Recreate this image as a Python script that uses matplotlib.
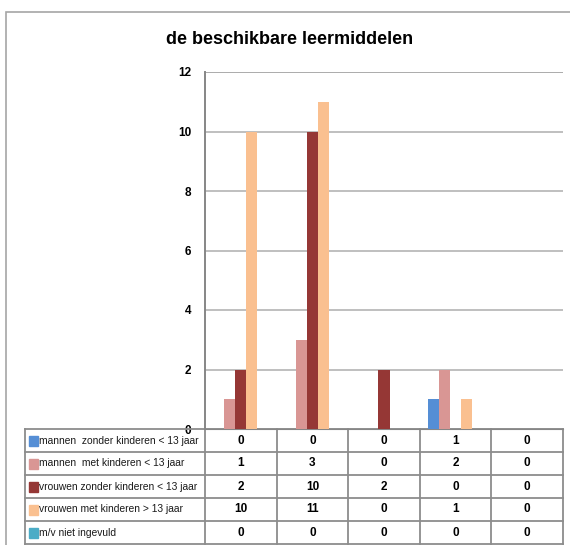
import numpy as np
import matplotlib
matplotlib.use('Agg')
import matplotlib.pyplot as plt
from matplotlib.patches import Rectangle

plt.rcParams['font.family'] = ['Liberation Sans Narrow', 'Liberation Sans', 'DejaVu Sans']

title = 'de beschikbare leermiddelen'
groups = ['1', '2', '3', '4', '5']

series_names = ['mannen  zonder kinderen < 13 jaar',
                'mannen  met kinderen < 13 jaar',
                'vrouwen zonder kinderen < 13 jaar',
                'vrouwen met kinderen > 13 jaar',
                'm/v niet ingevuld']
mannen_zonder = [0, 0, 0, 1, 0]
mannen_met = [1, 3, 0, 2, 0]
vrouwen_zonder = [2, 10, 2, 0, 0]
vrouwen_met = [10, 11, 0, 1, 0]
niet_ingevuld = [0, 0, 0, 0, 0]
series_values = [mannen_zonder, mannen_met, vrouwen_zonder, vrouwen_met, niet_ingevuld]
colors = ['#558ED5', '#D99694', '#953735', '#FAC090', '#4BACC6']

fig = plt.figure(figsize=(5.7, 5.45), dpi=100)
W, H = 570, 545

# outer chart border
fig.add_artist(Rectangle((6 / W, -0.05), 1.0, 1 - 12 / H + 0.05, transform=fig.transFigure,
                         fill=False, edgecolor='#a6a6a6', lw=1.2))

left, right, top, bottom = 205, 563, 72, 429
ax = fig.add_axes([left / W, 1 - bottom / H, (right - left) / W, (bottom - top) / H])

n = len(groups)
ns = len(series_values)
x = np.arange(n)
w = 1 / (ns + 1.5)
for j, vals in enumerate(series_values):
    ax.bar(x + (j - (ns - 1) / 2) * w, vals, width=w, color=colors[j], zorder=3)

ax.set_xlim(-0.5, n - 0.5)
ax.set_ylim(0, 12)
ax.set_yticks(range(0, 13, 2))
ax.set_yticklabels([str(v) for v in range(0, 13, 2)], fontweight='bold', fontsize=8.5)
ax.tick_params(axis='y', length=0, pad=10)
ax.tick_params(axis='x', length=0, labelbottom=False)
ax.grid(axis='y', color='#b4b4b4', lw=1.2, zorder=0)
for s in ['top', 'right']:
    ax.spines[s].set_visible(False)
ax.spines['left'].set_color('#868686')
ax.spines['bottom'].set_color('#868686')
ax.spines['left'].set_linewidth(1.4)
ax.axhline(12, color='#8c8c8c', lw=1.4, zorder=1)

fig.text(290 / W, 1 - 40 / H, title, ha='center', va='center', fontsize=13, fontweight='bold',
         family=['Liberation Sans', 'DejaVu Sans'])

# data table under the axis
row_h = 23 / (bottom - top)
lab_x0 = (25 - left) / (right - left)
tr = ax.transAxes
lc = '#8c8c8c'
for r in range(ns + 1):
    yy = -r * row_h
    ax.plot([lab_x0, 1], [yy, yy], color=lc, lw=1.3, transform=tr, clip_on=False)
for xx in [lab_x0] + [k / n for k in range(n + 1)]:
    ax.plot([xx, xx], [0, -ns * row_h], color=lc, lw=1.3, transform=tr, clip_on=False)
for r, (name, vals) in enumerate(zip(series_names, series_values)):
    yc = -(r + 0.5) * row_h
    ax.add_patch(Rectangle((lab_x0 + 4 / (right - left), yc - 5 / (bottom - top)),
                           9 / (right - left), 10 / (bottom - top),
                           color=colors[r], transform=tr, clip_on=False))
    ax.text(lab_x0 + 14 / (right - left), yc, name, transform=tr, ha='left', va='center',
            fontsize=7.4, color='#1a1a1a')
    for k, v in enumerate(vals):
        ax.text((k + 0.5) / n, yc, str(v), transform=tr, ha='center', va='center',
                fontsize=8.5, fontweight='bold')

fig.savefig('out.png', dpi=100)
